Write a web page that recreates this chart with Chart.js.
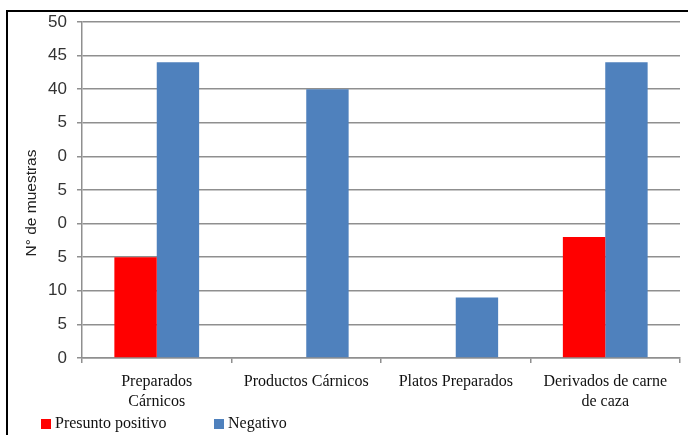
<!DOCTYPE html>
<html>
<head>
<meta charset="utf-8">
<script src="https://cdn.jsdelivr.net/npm/chart.js@4"></script>
<style>
  html, body { margin: 0; padding: 0; background: #fff; }
  #wrap { position: relative; width: 688px; height: 435px; overflow: hidden; }
  #frameTop { position: absolute; left: 6px; top: 10px; width: 682px; height: 2px; background: #000; }
  #frameLeft { position: absolute; left: 6px; top: 10px; width: 2px; height: 425px; background: #000; }
  canvas { position: absolute; left: 0; top: 0; }
</style>
</head>
<body>
<div id="wrap">
  <canvas id="chart" width="688" height="435"></canvas>
  <div id="frameTop"></div>
  <div id="frameLeft"></div>
</div>
<script>
// Sample categories (multi-line labels)
const categories = [
  ['Preparados', 'Cárnicos'],
  'Productos Cárnicos',
  'Platos Preparados',
  ['Derivados de carne', 'de caza']
];
// Number of samples per result
const presuntoPositivo = [15, 0, 0, 18];
const negativo = [44, 40, 9, 44];
// Y-axis tick texts, bottom to top
const yTickLabels = ['0', '5', '10', '5', '0', '5', '0', '5', '40', '45', '50'];
const yAxisTitle = 'N° de muestras';

const SANS = "'Liberation Sans', Arial, sans-serif";
const SERIF = "'Liberation Serif', 'Times New Roman', serif";
const GRID = '#8f8f8f';

// Rotated y-axis title and the legend below the axis labels
const annotations = {
  id: 'annotations',
  afterDraw(chart) {
    const ctx = chart.ctx;
    ctx.save();
    ctx.translate(32, 203);
    ctx.rotate(-Math.PI / 2);
    ctx.font = '15.5px ' + SANS;
    ctx.fillStyle = '#222';
    ctx.textAlign = 'center';
    ctx.textBaseline = 'middle';
    ctx.fillText(yAxisTitle, 0, 0);
    ctx.restore();

    const xs = [41, 214];
    ctx.save();
    ctx.font = '16px ' + SERIF;
    ctx.textBaseline = 'middle';
    ctx.textAlign = 'left';
    chart.data.datasets.forEach((ds, i) => {
      ctx.fillStyle = ds.backgroundColor;
      ctx.fillRect(xs[i], 419, 10, 10);
      ctx.fillStyle = '#111';
      ctx.fillText(ds.label, xs[i] + 14, 424);
    });
    ctx.restore();
  }
};

new Chart(document.getElementById('chart'), {
  type: 'bar',
  data: {
    labels: categories,
    datasets: [
      { label: 'Presunto positivo', data: presuntoPositivo, backgroundColor: '#ff0000' },
      { label: 'Negativo', data: negativo, backgroundColor: '#4f81bd' }
    ]
  },
  options: {
    responsive: false,
    animation: false,
    devicePixelRatio: 1,
    layout: { padding: { left: 23, right: 8, top: 22, bottom: 25 } },
    datasets: { bar: { barPercentage: 1, categoryPercentage: 0.567 } },
    plugins: { legend: { display: false }, tooltip: { enabled: false } },
    scales: {
      x: {
        grid: { drawOnChartArea: false, drawTicks: true, tickLength: 5, color: GRID, lineWidth: 1.5 },
        border: { color: GRID, width: 1.5 },
        ticks: {
          color: '#111',
          font: { family: SERIF, size: 16, lineHeight: 1.25 },
          padding: 9,
          maxRotation: 0,
          autoSkip: false
        },
        afterFit(scale) { scale.height = 52; }
      },
      y: {
        min: 0,
        max: 50,
        grid: { color: GRID, lineWidth: 1.5, drawTicks: true, tickLength: 5 },
        border: { color: GRID, width: 1.5 },
        ticks: {
          stepSize: 5,
          color: '#333',
          padding: 10,
          font: { family: SANS, size: 17 },
          callback: (v, i) => yTickLabels[i]
        },
        afterFit(scale) { scale.width = 59; }
      }
    }
  },
  plugins: [annotations]
});
</script>
</body>
</html>
